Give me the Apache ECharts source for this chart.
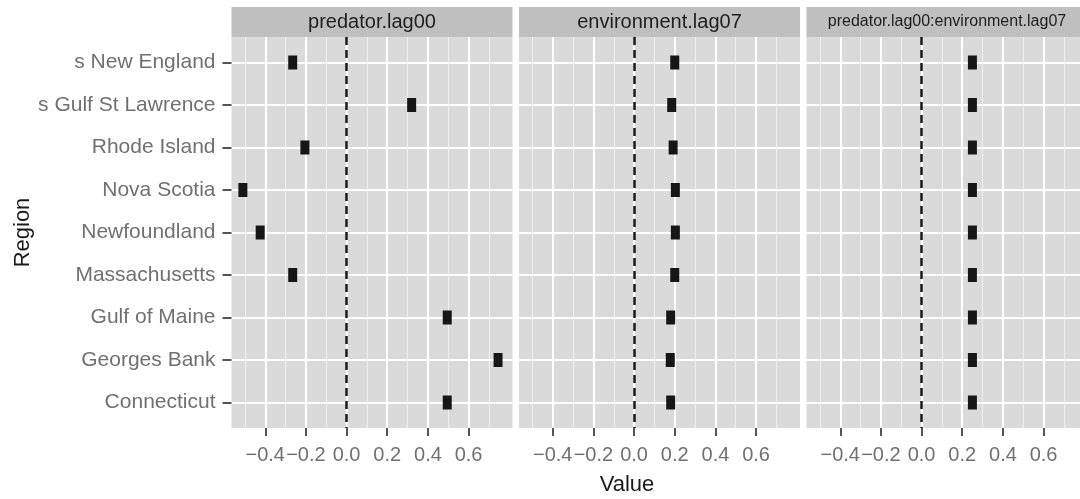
<!DOCTYPE html>
<html>
<head>
<meta charset="utf-8">
<script src="https://cdn.jsdelivr.net/npm/echarts@6/dist/echarts.min.js"></script>
<style>html,body{margin:0;padding:0;background:#fff}#c{width:1080px;height:499px}</style>
</head>
<body>
<div id="c"></div>
<script>
const regions = ["s New England","s Gulf St Lawrence","Rhode Island","Nova Scotia","Newfoundland","Massachusetts","Gulf of Maine","Georges Bank","Connecticut"];
const panels = ["predator.lag00","environment.lag07","predator.lag00:environment.lag07"];
const predatorLag00 = [-0.265,0.32,-0.205,-0.51,-0.425,-0.265,0.495,0.745,0.495];
const environmentLag07 = [0.200,0.185,0.192,0.203,0.203,0.200,0.180,0.178,0.180];
const interactionLag = [0.25,0.25,0.25,0.25,0.25,0.25,0.25,0.25,0.25];
const majorTicks = [-0.4,-0.2,0.0,0.2,0.4,0.6];
const minorTicks = [-0.5,-0.3,-0.1,0.1,0.3,0.5,0.7];
const seriesValues = [predatorLag00, environmentLag07, interactionLag];

const XMIN = -0.566, XMAX = 0.816;
const PANEL_LEFTS = [231.5, 519, 806.5], PANEL_W = 281, TOP = 37, H = 391;
const FONT = '"Liberation Sans", Arial, sans-serif';
const rowIdx = regions.map((_, i) => i);

const grids = [], xAxes = [], yAxes = [], series = [], graphics = [];
panels.forEach((p, k) => {
  const left = PANEL_LEFTS[k];
  grids.push({left: left, top: TOP, width: PANEL_W, height: H, show: true,
    backgroundColor: '#dadadb', borderWidth: 0, containLabel: false, outerBoundsMode: 'none'});
  xAxes.push({type: 'value', gridIndex: k, min: XMIN, max: XMAX, position: 'bottom',
    axisLine: {show: false, onZero: false},
    axisTick: {show: true, length: 8, customValues: majorTicks, lineStyle: {color: '#555', width: 2}},
    axisLabel: {show: true, customValues: majorTicks, margin: 17, color: '#707070', fontSize: 20, fontFamily: FONT,
      formatter: v => (v < 0 ? '\u2212' : '') + Math.abs(v).toFixed(1)},
    splitLine: {show: true, lineStyle: {color: '#ffffff', width: 2}}
  });
  xAxes.push({type: 'value', gridIndex: k, min: XMIN, max: XMAX, position: 'bottom',
    axisLine: {show: false, onZero: false},
    axisTick: {show: false, customValues: minorTicks},
    axisLabel: {show: false, customValues: minorTicks},
    splitLine: {show: true, lineStyle: {color: '#f0f0f0', width: 1}}
  });
  yAxes.push({type: 'value', gridIndex: k, min: -0.6, max: 8.6, inverse: true, position: 'left',
    axisLine: {show: false, onZero: false},
    axisTick: {show: k === 0, length: 9, customValues: rowIdx, lineStyle: {color: '#555', width: 2}},
    axisLabel: {show: k === 0, customValues: rowIdx, margin: 16, color: '#707070', fontSize: 21, fontFamily: FONT,
      formatter: v => regions[Math.round(v)] || ''},
    splitLine: {show: true, lineStyle: {color: '#ffffff', width: 2}},
    name: k === 0 ? 'Region' : '', nameLocation: 'middle', nameGap: 198, nameRotate: 90,
    nameTextStyle: {fontSize: 22, color: '#1a1a1a', fontFamily: FONT}
  });
  series.push({type: 'scatter', xAxisIndex: 2 * k, yAxisIndex: k,
    symbol: 'rect', symbolSize: [9, 14],
    itemStyle: {color: '#161616', opacity: 1},
    data: seriesValues[k].map((v, i) => [v, i]),
    markLine: {silent: true, symbol: 'none', label: {show: false},
      lineStyle: {color: '#1a1a1a', type: [8, 5], width: 2.5, opacity: 1},
      data: [{xAxis: 0}]}
  });
  graphics.push({type: 'rect', shape: {x: left, y: 7, width: PANEL_W, height: 30},
    style: {fill: '#bfbfc0'}});
  graphics.push({type: 'text', x: left + PANEL_W / 2, y: 22,
    style: {text: p, fill: '#1e1e1e', fontSize: k === 2 ? 16 : 20, fontFamily: FONT,
      align: 'center', verticalAlign: 'middle'}});
});
graphics.push({type: 'text', x: 627, y: 485,
  style: {text: 'Value', fill: '#1a1a1a', fontSize: 22, fontFamily: FONT, align: 'center', verticalAlign: 'middle'}});

const chart = echarts.init(document.getElementById('c'), null, {renderer: 'canvas'});
chart.setOption({
  animation: false,
  backgroundColor: '#ffffff',
  grid: grids, xAxis: xAxes, yAxis: yAxes, series: series,
  graphic: graphics
});
</script>
</body>
</html>
